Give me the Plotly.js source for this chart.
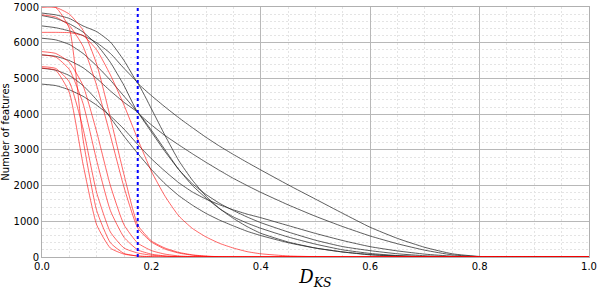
<!DOCTYPE html>
<html>
<head>
<meta charset="utf-8">
<script src="https://cdn.plot.ly/plotly-3.0.1.min.js"></script>
<style>html,body{margin:0;padding:0;background:#fff;}#chart{width:600px;height:290px;}</style>
</head>
<body>
<div id="chart"></div>
<script>
// D_KS grid shared by all curves
const dks = [0,0.025,0.05,0.075,0.1,0.125,0.15,0.175,0.2,0.225,0.25,0.275,0.3,0.325,0.35,0.375,0.4,0.45,0.5,0.55,0.6,0.65,0.7,0.75,0.8,0.85,0.9,1.0];

// black (gray) curves
const black1 = [6830,6780,6680,6470,6310,6020,5500,4870,4520,4200,3900,3620,3350,3100,2870,2650,2437,2020,1620,1220,832,520,270,90,15,0,0,0];
const black2 = [6470,6420,6330,6200,6000,5700,5280,4870,4150,3400,2700,2150,1700,1350,1080,850,664,420,250,140,60,25,5,0,0,0,0,0];
const black3 = [6760,6680,6530,6300,5950,5450,4800,4050,3700,3400,3140,2890,2650,2420,2200,2000,1810,1460,1140,850,588,370,190,60,10,0,0,0];
const black4 = [6125,6080,5950,5700,5350,4950,4500,4050,3500,2950,2450,2050,1750,1500,1300,1120,961,700,470,290,177,90,35,10,0,0,0,0];
const black5 = [5658,5620,5500,5300,5000,4650,4330,4050,3550,3000,2450,2000,1650,1350,1120,950,804,560,360,200,100,40,10,0,0,0,0,0];
const black6 = [4840,4800,4680,4500,4250,3950,3580,3150,2750,2400,2080,1820,1620,1460,1320,1200,1100,880,660,460,289,170,80,25,5,0,0,0];
const black7 = [5285,5230,5080,4800,4400,3900,3380,2900,2450,2050,1720,1450,1220,1030,870,720,600,400,250,140,70,30,10,0,0,0,0,0];

// red curves
const red1 = [7000,6990,6400,3300,1300,400,100,25,5,0,0,0,0,0,0,0,0,0,0,0,0,0,0,0,0,0,0,0];
const red2 = [6290,6290,6280,6200,5800,5100,4250,3300,2400,1700,1150,800,560,380,250,150,90,30,10,0,0,0,0,0,0,0,0,0];
const red3 = [7000,6990,6800,6350,5400,3900,2300,900,450,250,130,60,25,8,0,0,0,0,0,0,0,0,0,0,0,0,0,0];
const red4 = [6780,6720,6480,5900,4800,3400,1950,810,420,220,110,50,20,5,0,0,0,0,0,0,0,0,0,0,0,0,0,0];
const red5 = [5750,5700,5450,4800,3500,2000,900,390,180,80,30,10,0,0,0,0,0,0,0,0,0,0,0,0,0,0,0,0];
const red6 = [5660,5600,5250,4300,2700,1300,550,200,80,30,10,0,0,0,0,0,0,0,0,0,0,0,0,0,0,0,0,0];
const red7 = [5330,5280,4900,3600,1800,700,250,112,50,20,5,0,0,0,0,0,0,0,0,0,0,0,0,0,0,0,0,0];
const red8 = [5290,5230,4600,2600,900,250,80,30,10,0,0,0,0,0,0,0,0,0,0,0,0,0,0,0,0,0,0,0];

// threshold marker
const threshold = 0.175;
const yMax = 7000;

const blackSeries = [black1,black2,black3,black4,black5,black6,black7];
const redSeries = [red1,red2,red3,red4,red5,red6,red7,red8];

const traces = [];
blackSeries.forEach(s => traces.push({x: dks, y: s, type: 'scatter', mode: 'lines',
  line: {color: 'rgba(40,40,40,0.75)', width: 1, shape: 'spline', smoothing: 0.5}, hoverinfo: 'skip'}));
redSeries.forEach(s => traces.push({x: dks, y: s, type: 'scatter', mode: 'lines',
  line: {color: 'rgba(255,0,0,0.6)', width: 1, shape: 'spline', smoothing: 0.5}, hoverinfo: 'skip'}));
traces.push({x: [threshold, threshold], y: [0, yMax], type: 'scatter', mode: 'lines',
  line: {color: '#0000ff', width: 2, dash: 'dot'}, hoverinfo: 'skip'});

const layout = {
  width: 600, height: 290,
  margin: {l: 42, r: 11, t: 7, b: 33},
  paper_bgcolor: '#fff', plot_bgcolor: '#fff',
  showlegend: false,
  font: {family: 'DejaVu Sans', size: 10, color: '#000'},
  xaxis: {
    range: [0, 1], dtick: 0.2, tickformat: '.1f', ticks: '',
    showgrid: true, gridcolor: '#b8b8b8', gridwidth: 1,
    minor: {dtick: 0.05, showgrid: true, gridcolor: '#e4e4e4', griddash: '2px,2px', gridwidth: 1},
    showline: true, linecolor: '#b0b0b0', mirror: true, zeroline: false,
    title: {text: '<i>D</i><sub><i>KS</i></sub>', font: {family: 'DejaVu Serif', size: 18}, standoff: 4}
  },
  yaxis: {
    range: [0, yMax], dtick: 1000, ticks: '',
    showgrid: true, gridcolor: '#b8b8b8', gridwidth: 1,
    minor: {dtick: 200, showgrid: true, gridcolor: '#e4e4e4', griddash: '2px,2px', gridwidth: 1},
    showline: true, linecolor: '#b0b0b0', mirror: true, zeroline: false,
    title: {text: 'Number of features', font: {family: 'DejaVu Sans', size: 10}, standoff: 8}
  }
};

Plotly.newPlot('chart', traces, layout, {staticPlot: true, displayModeBar: false});
</script>
</body>
</html>
